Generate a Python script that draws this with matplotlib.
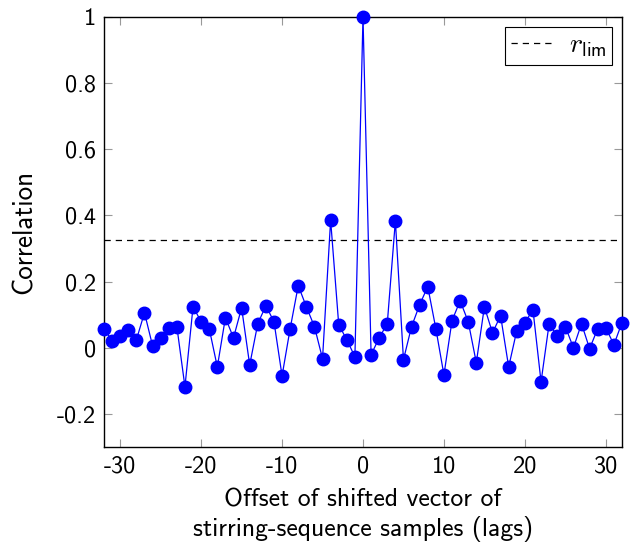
import matplotlib
matplotlib.use("Agg")
import matplotlib.pyplot as plt
import numpy as np
from matplotlib.ticker import FuncFormatter

# lags -32..32
lags = np.arange(-32, 33)
correlation = [
    0.058, 0.021, 0.036, 0.055, 0.024, 0.106, 0.006, 0.030, 0.060, 0.064,
    -0.118, 0.124, 0.079, 0.058, -0.058, 0.091, 0.030, 0.121, -0.052, 0.073,
    0.127, 0.079, -0.085, 0.058, 0.188, 0.124, 0.064, -0.033, 0.386, 0.070,
    0.024, -0.027, 1.000, -0.021, 0.030, 0.073, 0.384, -0.036, 0.064, 0.130,
    0.185, 0.058, -0.082, 0.082, 0.142, 0.079, -0.045, 0.124, 0.045, 0.097,
    -0.058, 0.052, 0.076, 0.115, -0.103, 0.073, 0.036, 0.064, 0.000, 0.073,
    -0.003, 0.058, 0.061, 0.009, 0.076,
]
r_lim = 0.327
x_ticks = [-30, -20, -10, 0, 10, 20, 30]
y_ticks = [-0.2, 0, 0.2, 0.4, 0.6, 0.8, 1.0]

plt.rcParams["font.family"] = ["cmss10", "DejaVu Sans"]
plt.rcParams["mathtext.fontset"] = "cm"
plt.rcParams["axes.unicode_minus"] = False

fig = plt.figure(figsize=(6.35, 5.48), dpi=100)
ax = fig.add_axes([0.1638, 0.1843, 0.8157, 0.7847])

ax.plot(lags, correlation, color="#0000ff", linewidth=0.9, marker="o",
        markersize=9, zorder=3, clip_on=False)
ax.axhline(r_lim, color="black", linestyle=(0, (5, 4)), linewidth=0.9,
           label=r"$r_{\mathsf{lim}}$")

ax.set_xlim(-32, 32)
ax.set_ylim(-0.3, 1.0)
ax.set_xticks(x_ticks)
ax.set_yticks(y_ticks)
ax.yaxis.set_major_formatter(FuncFormatter(lambda v, p: "{:g}".format(round(v, 2))))
ax.tick_params(direction="in", top=True, right=True, color="#999999",
               length=6, width=0.8, labelsize=17.5)
ax.tick_params(axis="x", pad=6)
ax.tick_params(axis="y", pad=6)
for s in ax.spines.values():
    s.set_linewidth(1.0)

ax.set_ylabel("Correlation", fontsize=19.5, labelpad=14)
ax.set_xlabel("Offset of shifted vector of\nstirring-sequence samples (lags)",
              fontsize=18.5, linespacing=1.25, labelpad=8)

leg = ax.legend(loc="upper right", fontsize=20, frameon=True, fancybox=False,
                edgecolor="black", framealpha=1, handlelength=1.6,
                handletextpad=0.5, borderaxespad=0.35, borderpad=0.2)
leg.get_frame().set_linewidth(0.8)

fig.savefig("out.png", dpi=100)
